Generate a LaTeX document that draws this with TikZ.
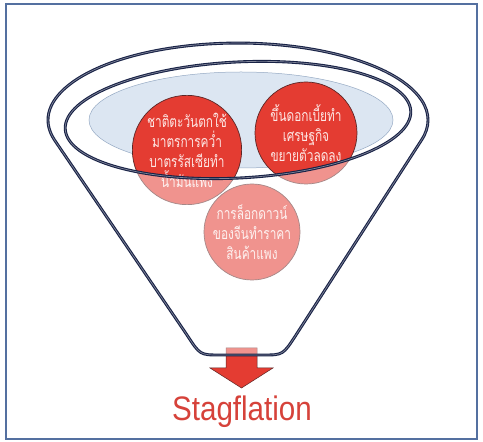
\documentclass[tikz,border=0pt]{standalone}
\usepackage{fontspec}
\setmainfont{Liberation Sans}
\newfontfamily\thaifont[Script=Thai, FakeStretch=0.74]{Loma}
\usetikzlibrary{
    positioning,                      % colocacion relativa
    calc                              % aritmetica de coordenadas
}
\definecolor{marco}{RGB}{84,112,160}
\definecolor{embudo}{RGB}{24,34,70}
\definecolor{celeste}{RGB}{220,230,242}
\definecolor{bordeceleste}{RGB}{150,170,196}
\definecolor{rojobola}{RGB}{228,60,50}
\definecolor{bordebola}{RGB}{92,38,38}
\definecolor{textobola}{RGB}{253,232,230}
\definecolor{rojotitulo}{RGB}{214,66,58}
\tikzset{
    bola/.style={
        circle, draw=bordebola, line width=0.7pt,
        fill=rojobola, inner sep=0pt,
        align=center, text=textobola,
        font=\thaifont\fontsize{16}{20}\selectfont
    },
    linea/.style={
        draw=embudo, line width=1.1pt,
        double=embudo!55!white, double distance=0.7pt
    },
    titulo/.style={
        text=rojotitulo, font=\fontsize{34}{34}\selectfont,
        xscale=0.87, inner sep=0pt
    }
}
% contorno del embudo
\newcommand{\contornoembudo}{(54.5,302) arc[start angle=195, end angle=-15, x radius=190, y radius=77]
    -- (296,107) .. controls (283,87) .. (263,87) -- (220,87)
    .. controls (200,87) .. (187,107) -- cycle}

\begin{document}
\begin{tikzpicture}[x=1pt, y=1pt]

    \fill[white] (0,0) rectangle (483,442);
    \useasboundingbox (0,0) rectangle (483,442);
    \draw[marco, line width=1.2pt] (6,3) rectangle (477,438);

    % fondo celeste dentro del aro
    \draw[draw=bordeceleste, fill=celeste, line width=0.5pt]
        (241,322) ellipse[x radius=152, y radius=48];

    % causas
    \node[bola, minimum size=96pt] (china) at (252,210)
        {การล็อกดาวน์\\ของจีนทำราคา\\สินค้าแพง};
    \node[bola, minimum size=106pt] (sancion) at (187,292)
        {ชาติตะวันตกใช้\\มาตรการคว่ำ\\บาตรรัสเซียทำ\\น้ำมันแพง};
    \node[bola, minimum size=102pt] (interes) at (306,309)
        {ขึ้นดอกเบี้ยทำ\\เศรษฐกิจ\\ขยายตัวลดลง};

    % flecha de salida
    \draw[fill=rojobola, draw=bordebola, line width=0.5pt]
        (226,94) -- (257,94) -- (257,74) -- (273,74) -- (241.5,54)
        -- (210,74) -- (226,74) -- cycle;

    % cuerpo del embudo (velo blanco bajo el aro)
    \begin{scope}
        \clip \contornoembudo;
        \fill[white, opacity=0.45, even odd rule, rotate around={3:(238,322)}]
            (-60,-60) rectangle (540,500)
            (238,322) ellipse[x radius=173, y radius=58];
    \end{scope}

    % aro y contorno
    \draw[linea, rotate around={3:(238,322)}]
        (238,322) ellipse[x radius=173, y radius=58];
    \draw[linea] \contornoembudo;

    % resultado
    \node[titulo] (resultado) at (242,30) {Stagflation};

\end{tikzpicture}
\end{document}
